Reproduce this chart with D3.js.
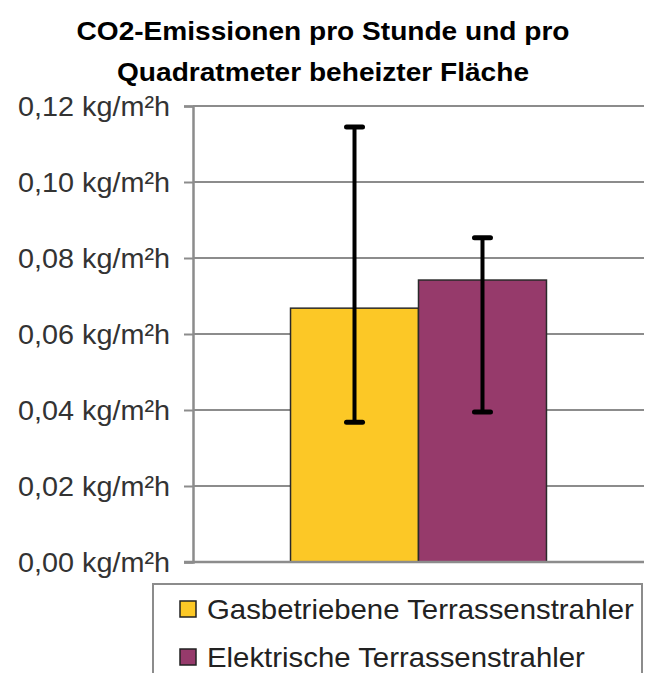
<!DOCTYPE html>
<html>
<head>
<meta charset="utf-8">
<script src="https://cdnjs.cloudflare.com/ajax/libs/d3/7.8.5/d3.min.js"></script>
<style>
body { margin: 0; background: #fff; }
text { font-family: "Liberation Sans", Arial, sans-serif; fill: #1a1a1a; }
</style>
</head>
<body>
<div id="chart"></div>
<script>
var titleLines = ["CO2-Emissionen pro Stunde und pro", "Quadratmeter beheizter Fläche"];
var series = ["Gasbetriebene Terrassenstrahler", "Elektrische Terrassenstrahler"];
var values = [0.0668, 0.0742];
var errLow = [0.0368, 0.0395];
var errHigh = [0.1145, 0.0853];
var colors = ["#fcc826", "#963a6b"];
var yTicks = [0, 0.02, 0.04, 0.06, 0.08, 0.10, 0.12];

var W = 646, H = 673;

var svg = d3.select("#chart").append("svg")
  .attr("width", W).attr("height", H);

var y = d3.scaleLinear().domain([0, 0.12]).range([562, 106]);
var x0 = d3.scaleBand().domain([""]).range([193, 644]).paddingInner(0).paddingOuter(0.381);
var x1 = d3.scaleBand().domain(series).range([0, x0.bandwidth()]).padding(0);

function label(g, txt, x, yy, anchor, size, weight, sx) {
  return g.append("text")
    .attr("transform", "translate(" + x + "," + yy + ") scale(" + (sx || 1) + ",1)")
    .attr("text-anchor", anchor)
    .style("font-size", size + "px")
    .style("font-weight", weight || "normal")
    .text(txt);
}

// title (slightly wide in the picture)
titleLines.forEach(function(t, i) {
  label(svg, t, 323, 40 + i * 41, "middle", 26.5, "bold", 1.06).style("fill", "#000");
});

// grid
svg.append("g").selectAll("line").data(yTicks.slice(1)).enter().append("line")
  .attr("x1", 193).attr("x2", 644)
  .attr("y1", function(d) { return y(d); }).attr("y2", function(d) { return y(d); })
  .style("stroke", "#8c8c8c").style("stroke-width", 2);

// y axis
var yAxis = d3.axisLeft(y).tickValues(yTicks).tickSize(9).tickFormat("");
var ga = svg.append("g").attr("transform", "translate(193,0)").call(yAxis);
ga.select(".domain").style("stroke", "#8c8c8c").style("stroke-width", 2.5);
ga.selectAll(".tick line").style("stroke", "#8c8c8c").style("stroke-width", 2);

yTicks.forEach(function(d) {
  label(svg, d.toFixed(2).replace(".", ",") + " kg/m²h", 170, y(d) + 10, "end", 28.5, "normal", 1.01).style("fill", "#333");
});

// bars
var gb = svg.append("g").attr("transform", "translate(" + x0("") + ",0)");
gb.selectAll("rect").data(series).enter().append("rect")
  .attr("x", function(d) { return x1(d); })
  .attr("y", function(d, i) { return y(values[i]); })
  .attr("width", x1.bandwidth())
  .attr("height", function(d, i) { return y(0) - y(values[i]); })
  .style("fill", function(d, i) { return colors[i]; })
  .style("stroke", "#2a2a2a").style("stroke-width", 1.5);

// x axis line
svg.append("line").attr("x1", 184).attr("x2", 644).attr("y1", y(0)).attr("y2", y(0))
  .style("stroke", "#8c8c8c").style("stroke-width", 2.5);

// error bars
var ge = gb.selectAll("g.err").data(series).enter().append("g").attr("class", "err");
ge.append("line")
  .attr("x1", function(d) { return x1(d) + x1.bandwidth() / 2; })
  .attr("x2", function(d) { return x1(d) + x1.bandwidth() / 2; })
  .attr("y1", function(d, i) { return y(errLow[i]); })
  .attr("y2", function(d, i) { return y(errHigh[i]); })
  .style("stroke", "#000").style("stroke-width", 4);
[errLow, errHigh].forEach(function(arr) {
  ge.append("line")
    .attr("x1", function(d) { return x1(d) + x1.bandwidth() / 2 - 8; })
    .attr("x2", function(d) { return x1(d) + x1.bandwidth() / 2 + 8; })
    .attr("y1", function(d, i) { return y(arr[i]); })
    .attr("y2", function(d, i) { return y(arr[i]); })
    .style("stroke", "#000").style("stroke-width", 5).style("stroke-linecap", "round");
});

// legend
var gl = svg.append("g");
gl.append("rect").attr("x", 153).attr("y", 584).attr("width", 489).attr("height", 120)
  .style("fill", "#fff").style("stroke", "#8c8c8c").style("stroke-width", 2);
series.forEach(function(s, i) {
  var yy = 600 + i * 48;
  gl.append("rect").attr("x", 180).attr("y", yy + 1).attr("width", 16).attr("height", 16)
    .style("fill", colors[i]).style("stroke", "#222").style("stroke-width", 1.5);
  label(gl, s, 207, yy + 19, "start", 28.5, "normal", 1.03).style("fill", "#222");
});
</script>
</body>
</html>
